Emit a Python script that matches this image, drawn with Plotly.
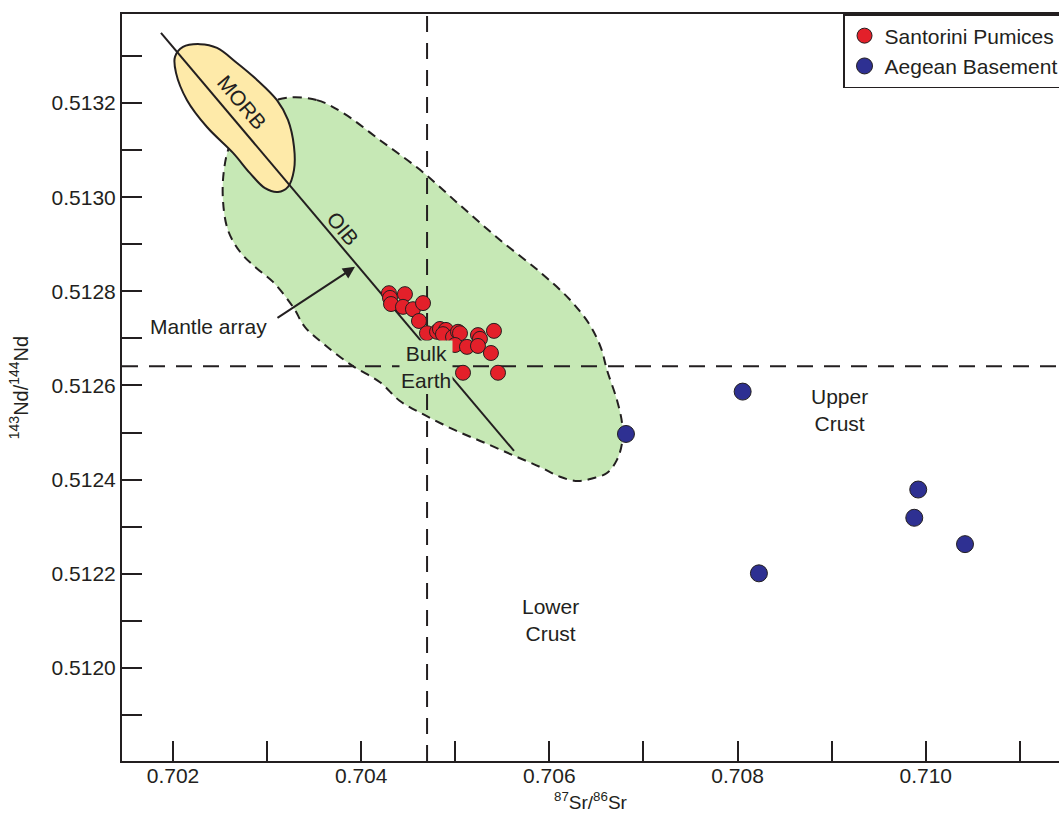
import plotly.graph_objects as go

# ---------------- data ----------------
pumice_sr = [0.704295, 0.704306, 0.704465, 0.704317, 0.704444, 0.704550, 0.704657,
             0.704614, 0.704699, 0.704806, 0.704837, 0.704901, 0.704869, 0.704976,
             0.705029, 0.705050, 0.704997, 0.705124, 0.705241, 0.705262, 0.705241,
             0.705379, 0.705411, 0.705082, 0.705454]
pumice_nd = [0.512796, 0.512786, 0.512794, 0.512773, 0.512767, 0.512762, 0.512775,
             0.512737, 0.512711, 0.512714, 0.512720, 0.512718, 0.512709, 0.512703,
             0.512714, 0.512711, 0.512686, 0.512682, 0.512707, 0.512699, 0.512684,
             0.512669, 0.512716, 0.512627, 0.512627]

basement_sr = [0.708054, 0.706814, 0.709920, 0.709878, 0.710417, 0.708227]
basement_nd = [0.512587, 0.512497, 0.512379, 0.512319, 0.512263, 0.512201]

# OIB field outline
oib_sr = [0.703211, 0.703530, 0.703807, 0.704200, 0.704625, 0.705050, 0.705475, 0.705900,
          0.706219, 0.706431, 0.706548, 0.706612, 0.706718, 0.706772, 0.706772, 0.706718,
          0.706612, 0.706463, 0.706304, 0.706113, 0.705900, 0.705634, 0.705316, 0.704997,
          0.704678, 0.704412, 0.704200, 0.703913, 0.703615, 0.703403, 0.703275, 0.703063,
          0.702882, 0.702712, 0.702584, 0.702531, 0.702542, 0.702606, 0.702765, 0.702956,
          0.703211]
oib_nd = [0.513211, 0.513206, 0.513179, 0.513121, 0.513058, 0.512983, 0.512909, 0.512841,
          0.512782, 0.512728, 0.512680, 0.512633, 0.512569, 0.512520, 0.512478, 0.512442,
          0.512414, 0.512403, 0.512397, 0.512406, 0.512427, 0.512450, 0.512478, 0.512505,
          0.512537, 0.512567, 0.512607, 0.512641, 0.512686, 0.512724, 0.512767, 0.512820,
          0.512850, 0.512884, 0.512930, 0.512994, 0.513058, 0.513111, 0.513160, 0.513194,
          0.513211]

# MORB field outline
morb_sr = [0.702021, 0.702106, 0.702287, 0.702468, 0.702680, 0.702893, 0.703105, 0.703222,
           0.703286, 0.703286, 0.703222, 0.703116, 0.702978, 0.702818, 0.702638, 0.702361,
           0.702149, 0.702032, 0.702021]
morb_nd = [0.513298, 0.513319, 0.513325, 0.513317, 0.513285, 0.513249, 0.513206, 0.513164,
           0.513107, 0.513058, 0.513022, 0.513011, 0.513019, 0.513051, 0.513094, 0.513149,
           0.513206, 0.513264, 0.513298]

# Mantle array line end points
mantle_sr = [0.701872, 0.705624]
mantle_nd = [0.513349, 0.512461]

# Bulk Earth reference values
bulk_sr = 0.70470
bulk_nd = 0.512641

x_range = [0.701458, 0.711416]
y_range = [0.5118024, 0.5133890]

INK = "#231f20"
FONT = "Liberation Sans, Arial, Helvetica, sans-serif"
FS = 21

fig = go.Figure()

fig.add_trace(go.Scatter(
    x=oib_sr, y=oib_nd, mode="lines", fill="toself", fillcolor="#c6e8b5",
    line=dict(color=INK, width=2, dash="9px,6px", shape="spline", smoothing=1.0),
    showlegend=False, hoverinfo="skip"))

fig.add_trace(go.Scatter(
    x=morb_sr, y=morb_nd, mode="lines", fill="toself", fillcolor="#feeaa9",
    line=dict(color=INK, width=2, shape="spline", smoothing=1.0),
    showlegend=False, hoverinfo="skip"))

# Bulk Earth dashed lines
fig.add_trace(go.Scatter(
    x=[bulk_sr, bulk_sr], y=y_range, mode="lines",
    line=dict(color=INK, width=2, dash="16px,11px"),
    showlegend=False, hoverinfo="skip"))
fig.add_trace(go.Scatter(
    x=x_range, y=[bulk_nd, bulk_nd], mode="lines",
    line=dict(color=INK, width=2, dash="16px,11px"),
    showlegend=False, hoverinfo="skip"))

# Mantle array
fig.add_trace(go.Scatter(
    x=mantle_sr, y=mantle_nd, mode="lines",
    line=dict(color=INK, width=2),
    showlegend=False, hoverinfo="skip"))

fig.add_trace(go.Scatter(
    x=pumice_sr, y=pumice_nd, mode="markers", name="Santorini Pumices",
    marker=dict(size=15, color="#e3202a", line=dict(color=INK, width=1))))

fig.add_trace(go.Scatter(
    x=basement_sr, y=basement_nd, mode="markers", name="Aegean Basement",
    marker=dict(size=17, color="#2e3092", line=dict(color=INK, width=1))))

ann_font = dict(family=FONT, size=FS, color=INK)
annotations = [
    dict(x=0.702733, y=0.513200, text="MORB", textangle=50, showarrow=False, font=ann_font),
    dict(x=0.703807, y=0.512934, text="OIB", textangle=50, showarrow=False, font=ann_font),
    dict(x=0.702372, y=0.512726, text="Mantle array", showarrow=False, font=ann_font),
    dict(x=0.703934, y=0.512852, text="", showarrow=True, ax=-79, ay=52,
         arrowhead=2, arrowsize=1.2, arrowwidth=2, arrowcolor=INK),
    dict(x=0.704689, y=0.512639, text="Bulk<br>Earth", showarrow=False, font=ann_font,
         bgcolor="#c6e8b5"),
    dict(x=0.709078, y=0.512548, text="Upper<br>Crust", showarrow=False, font=ann_font),
    dict(x=0.706017, y=0.512102, text="Lower<br>Crust", showarrow=False, font=ann_font),
    # x-axis title
    dict(x=0.5, y=0, xref="paper", yref="paper", xanchor="center", yanchor="top",
         yshift=-26, text="<sup>87</sup>Sr/<sup>86</sup>Sr", showarrow=False,
         font=dict(family=FONT, size=19, color=INK)),
]

axis_common = dict(
    showline=True, linecolor=INK, linewidth=2, ticks="inside", ticklen=20,
    tickwidth=1.5, tickcolor=INK, showgrid=False, zeroline=False,
    tickfont=dict(family=FONT, size=FS, color=INK),
)

fig.update_layout(
    width=1059, height=814,
    margin=dict(l=122, r=0, t=14, b=53, autoexpand=False),
    paper_bgcolor="white", plot_bgcolor="white",
    font=dict(family=FONT, color=INK),
    annotations=annotations,
    legend=dict(x=0.7695, y=1.0, xanchor="left", yanchor="top",
                bordercolor=INK, borderwidth=1.5, bgcolor="white",
                font=dict(family=FONT, size=FS, color=INK),
                tracegroupgap=0, itemwidth=30),
    xaxis=dict(range=x_range, dtick=0.002, tick0=0.702, tickformat=".3f",
               mirror=True, automargin=False, ticklabelstandoff=-5,
               minor=dict(dtick=0.001, tick0=0.702, ticks="inside", ticklen=20,
                          tickwidth=1.5, tickcolor=INK),
               **axis_common),
    yaxis=dict(range=y_range, dtick=0.0002, tick0=0.512, tickformat=".4f",
               automargin=False,
               minor=dict(dtick=0.0001, tick0=0.512, ticks="inside", ticklen=20,
                          tickwidth=1.5, tickcolor=INK),
               title=dict(text="<sup>143</sup>Nd/<sup>144</sup>Nd",
                          font=dict(family=FONT, size=20, color=INK), standoff=18),
               **axis_common),
)

fig.write_html("out.html")
